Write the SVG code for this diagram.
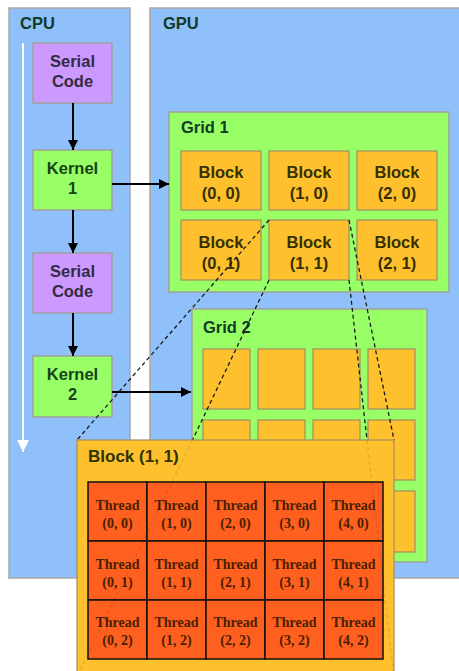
<svg xmlns="http://www.w3.org/2000/svg" width="459" height="671" viewBox="0 0 459 671">
  <defs>
    <marker id="arrowBlack" viewBox="0 0 10 10" refX="10" refY="5" markerWidth="10" markerHeight="10" markerUnits="userSpaceOnUse" orient="auto">
      <path d="M0,0 L10,5 L0,10 z" fill="#000"/>
    </marker>
    <marker id="arrowWhite" viewBox="0 0 10 10" refX="10" refY="5" markerWidth="14" markerHeight="12" markerUnits="userSpaceOnUse" orient="auto">
      <path d="M0,0 L10,5 L0,10 z" fill="#fff"/>
    </marker>
    <style>
      .panel { fill: #90c0fa; stroke: #a8a8a8; stroke-width: 1.5; }
      .green { fill: #99ff66; stroke: #a0a0a0; stroke-width: 1.5; }
      .purple { fill: #cc99ff; stroke: #a0a0a0; stroke-width: 1.5; }
      .orange { fill: #ffc02e; stroke: #a09060; stroke-width: 1.2; }
      .thread { fill: #ff5f1f; stroke: #111; stroke-width: 1.5; }
      .title { font-family: "Liberation Sans", Arial, sans-serif; font-weight: bold; font-size: 16.5px; fill: #123a28; }
      .label { font-family: "Liberation Sans", Arial, sans-serif; font-weight: bold; font-size: 16.5px; text-anchor: middle; }
      .lblPurple { fill: #332b42; }
      .lblGreen { fill: #17431a; }
      .lblBlock { fill: #363000; }
      .tlabel { font-family: "Liberation Serif", "Times New Roman", serif; font-weight: bold; font-size: 14px; text-anchor: middle; fill: #4a1f00; }
      .arrow { stroke: #000; stroke-width: 2; fill: none; }
      .dash { stroke: #1a1a1a; stroke-width: 1.3; stroke-dasharray: 4 3; fill: none; }
      .dashFaint { stroke: #1a1a1a; stroke-width: 1.3; stroke-dasharray: 4 3; fill: none; opacity: 0.12; }
    </style>
  </defs>

  <rect width="459" height="671" fill="#fff"/>

  <!-- Host side -->
  <g id="cpu">
    <rect class="panel" x="9" y="8" width="121" height="570"/>
    <text class="title" x="20" y="29">CPU</text>
    <line x1="23" y1="43" x2="23" y2="452" stroke="#fff" stroke-width="2" marker-end="url(#arrowWhite)"/>
  </g>

  <!-- Device side -->
  <g id="gpu">
    <rect class="panel" x="150" y="8" width="315" height="570"/>
    <text class="title" x="163" y="29">GPU</text>
  </g>

  <g id="serial-code-1">
    <rect class="purple" x="33" y="43" width="79" height="60"/>
    <text class="label lblPurple" x="72.5" y="67">Serial</text>
    <text class="label lblPurple" x="72.5" y="87">Code</text>
  </g>
  <g id="kernel-1">
    <rect class="green" x="33" y="150" width="79" height="60"/>
    <text class="label lblGreen" x="72.5" y="174">Kernel</text>
    <text class="label lblGreen" x="72.5" y="194">1</text>
  </g>
  <g id="serial-code-2">
    <rect class="purple" x="33" y="253" width="79" height="60"/>
    <text class="label lblPurple" x="72.5" y="277">Serial</text>
    <text class="label lblPurple" x="72.5" y="297">Code</text>
  </g>
  <g id="kernel-2">
    <rect class="green" x="33" y="356" width="79" height="61"/>
    <text class="label lblGreen" x="72.5" y="380">Kernel</text>
    <text class="label lblGreen" x="72.5" y="400">2</text>
  </g>

  <!-- Grid 1: 3 x 2 blocks -->
  <g id="grid-1">
    <rect class="green" x="169" y="112" width="280" height="180"/>
    <text class="title" x="181" y="133">Grid 1</text>
    <g id="block-0-0">
      <rect class="orange" x="181" y="151" width="80" height="59"/>
      <text class="label lblBlock" x="221" y="178">Block</text>
      <text class="label lblBlock" x="221" y="199">(0, 0)</text>
    </g>
    <g id="block-1-0">
      <rect class="orange" x="269" y="151" width="80" height="59"/>
      <text class="label lblBlock" x="309" y="178">Block</text>
      <text class="label lblBlock" x="309" y="199">(1, 0)</text>
    </g>
    <g id="block-2-0">
      <rect class="orange" x="357" y="151" width="80" height="59"/>
      <text class="label lblBlock" x="397" y="178">Block</text>
      <text class="label lblBlock" x="397" y="199">(2, 0)</text>
    </g>
    <g id="block-0-1">
      <rect class="orange" x="181" y="220" width="80" height="60"/>
      <text class="label lblBlock" x="221" y="248">Block</text>
      <text class="label lblBlock" x="221" y="269">(0, 1)</text>
    </g>
    <g id="block-1-1">
      <rect class="orange" x="269" y="220" width="80" height="60"/>
      <text class="label lblBlock" x="309" y="248">Block</text>
      <text class="label lblBlock" x="309" y="269">(1, 1)</text>
    </g>
    <g id="block-2-1">
      <rect class="orange" x="357" y="220" width="80" height="60"/>
      <text class="label lblBlock" x="397" y="248">Block</text>
      <text class="label lblBlock" x="397" y="269">(2, 1)</text>
    </g>
  </g>

  <!-- Grid 2: 4 x 3 blocks -->
  <g id="grid-2">
    <rect class="green" x="192" y="309" width="235" height="253"/>
    <text class="title" x="203" y="333">Grid 2</text>
    <rect class="orange" x="203" y="349" width="47" height="60"/>
    <rect class="orange" x="258" y="349" width="47" height="60"/>
    <rect class="orange" x="313" y="349" width="47" height="60"/>
    <rect class="orange" x="368" y="349" width="47" height="60"/>
    <rect class="orange" x="203" y="420" width="47" height="60"/>
    <rect class="orange" x="258" y="420" width="47" height="60"/>
    <rect class="orange" x="313" y="420" width="47" height="60"/>
    <rect class="orange" x="368" y="420" width="47" height="60"/>
    <rect class="orange" x="203" y="491" width="47" height="61"/>
    <rect class="orange" x="258" y="491" width="47" height="61"/>
    <rect class="orange" x="313" y="491" width="47" height="61"/>
    <rect class="orange" x="368" y="491" width="47" height="61"/>
  </g>

  <!-- Connectors -->
  <g id="connectors">
    <line class="arrow" x1="73" y1="103" x2="73" y2="150" marker-end="url(#arrowBlack)"/>
    <line class="arrow" x1="73" y1="210" x2="73" y2="253" marker-end="url(#arrowBlack)"/>
    <line class="arrow" x1="73" y1="313" x2="73" y2="356" marker-end="url(#arrowBlack)"/>
    <line class="arrow" x1="112" y1="184" x2="169" y2="184" marker-end="url(#arrowBlack)"/>
    <line class="arrow" x1="112" y1="392" x2="191" y2="392" marker-end="url(#arrowBlack)"/>
    <!-- zoom lines from block (1, 1) of grid 1 to its enlarged view -->
    <line class="dash" x1="269" y1="220" x2="77" y2="440"/>
    <line class="dash" x1="349" y1="220" x2="394" y2="440"/>
    <line class="dash" x1="269" y1="280" x2="192.5" y2="440"/>
    <line class="dash" x1="349" y1="280" x2="367" y2="440"/>
  </g>

  <!-- Enlarged block (1, 1) with 5 x 3 threads -->
  <g id="block-1-1-detail">
    <rect x="77" y="440" width="317" height="240" fill="#ffc02e" stroke="#a09060" stroke-width="1.2"/>
    <text class="title" x="88" y="462" style="fill:#2e3300; font-size:17px">Block (1, 1)</text>
    <g id="threads">
      <rect class="thread" x="88" y="482" width="59" height="59"/>
      <rect class="thread" x="147" y="482" width="59" height="59"/>
      <rect class="thread" x="206" y="482" width="59" height="59"/>
      <rect class="thread" x="265" y="482" width="59" height="59"/>
      <rect class="thread" x="324" y="482" width="59" height="59"/>
      <rect class="thread" x="88" y="541" width="59" height="59"/>
      <rect class="thread" x="147" y="541" width="59" height="59"/>
      <rect class="thread" x="206" y="541" width="59" height="59"/>
      <rect class="thread" x="265" y="541" width="59" height="59"/>
      <rect class="thread" x="324" y="541" width="59" height="59"/>
      <rect class="thread" x="88" y="600" width="59" height="59"/>
      <rect class="thread" x="147" y="600" width="59" height="59"/>
      <rect class="thread" x="206" y="600" width="59" height="59"/>
      <rect class="thread" x="265" y="600" width="59" height="59"/>
      <rect class="thread" x="324" y="600" width="59" height="59"/>

      <text class="tlabel" x="117.5" y="510">Thread</text><text class="tlabel" x="117.5" y="528">(0, 0)</text>
      <text class="tlabel" x="176.5" y="510">Thread</text><text class="tlabel" x="176.5" y="528">(1, 0)</text>
      <text class="tlabel" x="235.5" y="510">Thread</text><text class="tlabel" x="235.5" y="528">(2, 0)</text>
      <text class="tlabel" x="294.5" y="510">Thread</text><text class="tlabel" x="294.5" y="528">(3, 0)</text>
      <text class="tlabel" x="353.5" y="510">Thread</text><text class="tlabel" x="353.5" y="528">(4, 0)</text>

      <text class="tlabel" x="117.5" y="569">Thread</text><text class="tlabel" x="117.5" y="587">(0, 1)</text>
      <text class="tlabel" x="176.5" y="569">Thread</text><text class="tlabel" x="176.5" y="587">(1, 1)</text>
      <text class="tlabel" x="235.5" y="569">Thread</text><text class="tlabel" x="235.5" y="587">(2, 1)</text>
      <text class="tlabel" x="294.5" y="569">Thread</text><text class="tlabel" x="294.5" y="587">(3, 1)</text>
      <text class="tlabel" x="353.5" y="569">Thread</text><text class="tlabel" x="353.5" y="587">(4, 1)</text>

      <text class="tlabel" x="117.5" y="627">Thread</text><text class="tlabel" x="117.5" y="645">(0, 2)</text>
      <text class="tlabel" x="176.5" y="627">Thread</text><text class="tlabel" x="176.5" y="645">(1, 2)</text>
      <text class="tlabel" x="235.5" y="627">Thread</text><text class="tlabel" x="235.5" y="645">(2, 2)</text>
      <text class="tlabel" x="294.5" y="627">Thread</text><text class="tlabel" x="294.5" y="645">(3, 2)</text>
      <text class="tlabel" x="353.5" y="627">Thread</text><text class="tlabel" x="353.5" y="645">(4, 2)</text>
    </g>
  </g>

  <!-- faint continuation of the zoom lines across the enlarged block -->
  <g id="connectors-faint">
    <line class="dashFaint" x1="192.5" y1="440" x2="77" y2="677"/>
    <line class="dashFaint" x1="367" y1="440" x2="394" y2="677"/>
  </g>
</svg>
